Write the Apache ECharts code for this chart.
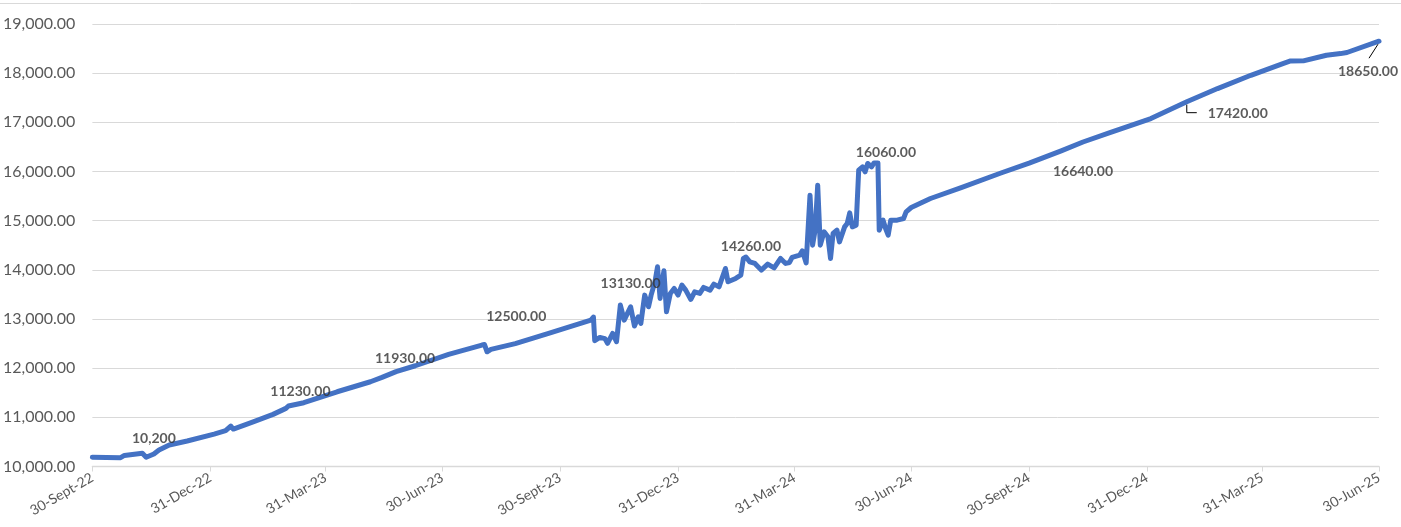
<!DOCTYPE html>
<html>
<head>
<meta charset="utf-8">
<script src="https://cdn.jsdelivr.net/npm/echarts@6/dist/echarts.min.js"></script>
<style>
html,body{margin:0;padding:0;background:#fff;}
#c{width:1401px;height:527px;}
</style>
</head>
<body>
<div id="c"></div>
<script>
// ---- data ----
const dates = [
'2022-09-30','2022-10-22','2022-10-25','2022-10-26','2022-11-08','2022-11-11','2022-11-17','2022-11-21','2022-11-29','2022-12-13',
'2023-01-03','2023-01-12','2023-01-16','2023-01-18','2023-02-03','2023-02-18','2023-02-28','2023-03-02','2023-03-14','2023-04-09',
'2023-05-05','2023-05-14','2023-05-25','2023-06-09','2023-07-05','2023-07-31','2023-08-02','2023-08-04','2023-08-07','2023-08-26',
'2023-09-21','2023-10-24','2023-10-26','2023-10-27','2023-10-31','2023-11-04','2023-11-06','2023-11-10','2023-11-13','2023-11-16',
'2023-11-19','2023-11-24','2023-11-27','2023-11-30','2023-12-02','2023-12-05','2023-12-08','2023-12-10','2023-12-13','2023-12-15',
'2023-12-17','2023-12-18','2023-12-20','2023-12-22','2023-12-25','2023-12-28','2023-12-31','2024-01-03','2024-01-06','2024-01-10',
'2024-01-13','2024-01-17','2024-01-20','2024-01-25','2024-01-28','2024-02-01','2024-02-06','2024-02-08','2024-02-14','2024-02-18',
'2024-02-20','2024-02-22','2024-02-25','2024-02-29','2024-03-05','2024-03-10','2024-03-15','2024-03-20','2024-03-24','2024-03-27',
'2024-03-29','2024-04-04','2024-04-06','2024-04-09','2024-04-10','2024-04-12','2024-04-14','2024-04-16','2024-04-18','2024-04-20',
'2024-04-23','2024-04-26','2024-04-28','2024-04-30','2024-05-03','2024-05-05','2024-05-09','2024-05-11','2024-05-13','2024-05-15',
'2024-05-18','2024-05-20','2024-05-23','2024-05-25','2024-05-27','2024-05-30','2024-06-01','2024-06-04','2024-06-05','2024-06-08',
'2024-06-10','2024-06-12','2024-06-14','2024-06-19','2024-06-24','2024-06-26','2024-06-30','2024-07-15','2024-08-08','2024-09-08',
'2024-09-30','2024-10-25','2024-11-11','2024-12-02','2025-01-03','2025-01-31','2025-02-24','2025-03-22','2025-04-16','2025-04-22',
'2025-05-02','2025-05-20','2025-05-31','2025-06-05','2025-06-30'
];
const values = [
10190,10180,10225,10185,10268,10187,10254,10335,10437,10518,
10660,10728,10823,10762,10911,11060,11182,11230,11297,11520,
11724,11813,11930,12049,12280,12470,12480,12333,12382,12500,
12707,12978,13040,12560,12626,12600,12504,12707,12537,13283,
12978,13248,12856,13045,12910,13486,13248,13486,13756,14061,
13419,13650,13980,13146,13520,13622,13486,13689,13587,13398,
13553,13520,13642,13587,13709,13654,14028,13756,13825,13892,
14232,14260,14163,14130,13994,14116,14041,14232,14130,14150,
14252,14299,14386,14140,14604,15518,14502,14807,15722,14502,
14772,14671,14232,14739,14807,14569,14874,14942,15159,14874,
14909,16026,16093,15992,16163,16093,16175,16175,14807,15010,
14840,14705,15010,15010,15044,15179,15268,15451,15670,15970,
16170,16420,16600,16790,17077,17420,17687,17957,18195,18248,
18250,18364,18398,18420,18650
];
const labelDates = ['2022-11-17','2023-03-02','2023-05-25','2023-08-26','2023-11-24','2024-02-22','2024-06-04','2024-11-11','2025-01-31','2025-06-30'];
const labelTexts = ['10,200','11230.00','11930.00','12500.00','13130.00','14260.00','16060.00','16640.00','17420.00','18650.00'];
const tickDates = ['2022-09-30','2022-12-31','2023-03-31','2023-06-30','2023-09-30','2023-12-31','2024-03-31','2024-06-30','2024-09-30','2024-12-31','2025-03-31','2025-06-30'];
const tickLabels = ['30-Sept-22','31-Dec-22','31-Mar-23','30-Jun-23','30-Sept-23','31-Dec-23','31-Mar-24','30-Jun-24','30-Sept-24','31-Dec-24','31-Mar-25','30-Jun-25'];
const yMin = 10000, yMax = 19000, yStep = 1000;

// ---- layout (not data) ----
const labelOffsets = [[0,-16],[12,-15],[9,-13],[1,-27],[0,-23],[5,-11],[8,-10],[0,29],[51,12],[-11,30]];

function parseDay(s){ const p = s.split('-').map(Number); return Date.UTC(p[0], p[1]-1, p[2]); }
const tickTs = tickDates.map(parseDay);
const lineData = dates.map((d,i)=>[parseDay(d), values[i]]);
const labelData = labelDates.map((d,i)=>{
  const idx = dates.indexOf(d);
  return {
    value:[parseDay(d), values[idx]],
    label:{show:true, formatter: labelTexts[i], offset: labelOffsets[i]}
  };
});

const font = 'Lato, "Open Sans", sans-serif';
const chart = echarts.init(document.getElementById('c'), null, {renderer:'canvas'});
const option = {
  animation:false,
  grid:{left:90, right:22, top:24, bottom:60.5, containLabel:false},
  xAxis:{
    type:'value',
    min: tickTs[0], max: tickTs[tickTs.length-1],
    axisLine:{show:true, onZero:false, lineStyle:{color:'#d9d9d9', width:1.3}},
    axisTick:{show:true, length:5, lineStyle:{color:'#d9d9d9'}, customValues: tickTs},
    axisLabel:{
      customValues: tickTs,
      rotate:30, margin:10,
      color:'#595959', fontFamily:font, fontSize:14,
      formatter:function(v){ const i = tickTs.indexOf(v); return i>=0 ? tickLabels[i] : ''; }
    },
    splitLine:{show:false}
  },
  yAxis:{
    type:'value', min:yMin, max:yMax, interval:yStep,
    axisLine:{show:false}, axisTick:{show:false},
    axisLabel:{
      color:'#595959', fontFamily:font, fontSize:16, margin:17,
      formatter:function(v){ return v.toLocaleString('en-US',{minimumFractionDigits:2, maximumFractionDigits:2}); }
    },
    splitLine:{lineStyle:{color:'#d9d9d9', width:1}}
  },
  series:[
    {
      type:'line', data: lineData, showSymbol:false, symbol:'none',
      lineStyle:{color:'#4472C4', width:5, join:'round', cap:'round'},
      z:2
    },
    {
      type:'scatter', data: labelData, symbolSize:0, z:3,
      label:{show:true, position:'inside', color:'#333333', fontFamily:font, fontSize:14, fontWeight:'bold'}
    }
  ]
};
chart.setOption(option);

// leader lines for two labels, anchored on data points via the chart's scales
function px(d){ const i = dates.indexOf(d); return chart.convertToPixel({seriesIndex:0}, [parseDay(d), values[i]]); }
const p1 = px('2025-01-31');
const p2 = px('2025-06-30');
chart.setOption({graphic:[
  {type:'line', shape:{x1:0,y1:3.5,x2:1401,y2:3.5}, style:{stroke:'#d9d9d9', lineWidth:1}},
  {type:'polyline', shape:{points:[[p1[0],p1[1]+3],[p1[0],p1[1]+11],[p1[0]+10,p1[1]+11]]}, style:{stroke:'#000', lineWidth:1, fill:null}, z:10},
  {type:'line', shape:{x1:p2[0]-1,y1:p2[1]+3,x2:p2[0]-10,y2:p2[1]+17}, style:{stroke:'#000', lineWidth:1}, z:10}
]});
</script>
</body>
</html>
